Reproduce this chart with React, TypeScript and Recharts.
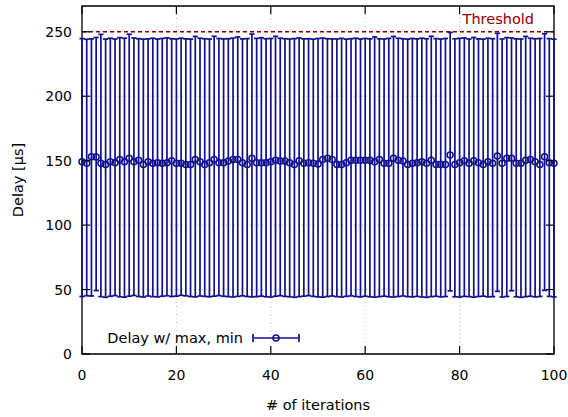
import React from "react";
import {
  ComposedChart,
  Line,
  ErrorBar,
  XAxis,
  YAxis,
  CartesianGrid,
  ReferenceLine,
  ReferenceArea,
} from "recharts";

const iterations = [
  0, 1, 2, 3, 4, 5, 6, 7, 8, 9, 10, 11, 12, 13, 14, 15, 16, 17, 18, 19, 20,
  21, 22, 23, 24, 25, 26, 27, 28, 29, 30, 31, 32, 33, 34, 35, 36, 37, 38, 39,
  40, 41, 42, 43, 44, 45, 46, 47, 48, 49, 50, 51, 52, 53, 54, 55, 56, 57, 58,
  59, 60, 61, 62, 63, 64, 65, 66, 67, 68, 69, 70, 71, 72, 73, 74, 75, 76, 77,
  78, 79, 80, 81, 82, 83, 84, 85, 86, 87, 88, 89, 90, 91, 92, 93, 94, 95, 96,
  97, 98, 99, 100,
];

const meanDelay = [
  149.2, 147.9, 153.1, 152.8, 147.9, 147.1, 149.2, 148.4, 151.0, 149.2, 151.8,
  149.2, 150.3, 147.1, 149.2, 147.9, 148.4, 147.9, 148.4, 150.0, 147.9, 147.9,
  147.1, 147.1, 151.0, 149.2, 147.1, 148.4, 151.0, 148.4, 148.4, 149.8, 151.0,
  151.0, 148.4, 147.1, 151.8, 148.4, 148.4, 148.4, 149.2, 150.3, 149.8, 149.8,
  148.4, 147.1, 150.0, 147.9, 148.4, 147.9, 147.4, 151.0, 151.8, 151.0, 147.1,
  147.1, 148.4, 150.3, 150.3, 150.3, 150.3, 150.3, 149.2, 151.0, 147.9, 147.9,
  151.8, 150.3, 149.8, 147.1, 147.9, 148.4, 149.2, 147.9, 150.3, 147.1, 147.1,
  147.1, 154.4, 147.1, 148.4, 150.0, 147.9, 150.0, 148.4, 147.1, 149.2, 147.9,
  153.6, 147.9, 151.8, 151.8, 147.9, 147.9, 150.3, 151.0, 149.2, 147.1, 153.1,
  148.4, 147.9,
];

const maxDelay = [
  244.7, 244.2, 244.5, 245.6, 248.0, 244.3, 245.0, 244.4, 245.5, 245.0, 248.1,
  245.2, 244.6, 244.3, 244.5, 245.0, 244.4, 244.8, 245.3, 244.6, 244.4, 245.0,
  244.5, 244.3, 246.4, 245.0, 244.6, 244.4, 246.5, 244.8, 244.5, 244.6, 245.1,
  246.0, 244.5, 244.7, 248.2, 244.9, 245.4, 244.6, 244.8, 246.5, 245.0, 244.6,
  244.4, 244.7, 245.2, 244.5, 244.6, 244.3, 244.8, 245.1, 244.6, 244.5, 244.4,
  244.9, 244.3, 244.6, 245.0, 244.4, 244.8, 244.5, 246.0, 244.6, 244.4, 244.9,
  246.4, 245.0, 244.6, 244.3, 244.8, 244.5, 245.0, 244.6, 246.5, 244.7, 244.4,
  244.8, 249.5, 244.6, 244.9, 245.2, 244.4, 245.6, 244.5, 244.3, 245.0, 244.6,
  248.8, 244.4, 245.5, 245.2, 244.5, 244.4, 246.4, 245.0, 244.6, 244.8, 248.5,
  244.7, 244.3,
];

const minDelay = [
  44.6, 45.2, 45.0, 49.2, 44.5, 44.0, 44.8, 45.3, 44.4, 44.1, 44.9, 45.4, 44.6,
  44.2, 45.0, 44.5, 44.3, 44.8, 45.2, 44.6, 44.9, 45.5, 45.1, 44.6, 44.3, 45.0,
  44.7, 44.4, 44.9, 45.3, 44.8, 44.5, 44.2, 44.7, 45.1, 44.6, 44.3, 44.5, 44.9,
  44.4, 44.2, 44.8, 45.2, 44.7, 44.4, 44.0, 44.5, 44.9, 45.3, 44.7, 44.3, 44.1,
  44.6, 45.0, 44.5, 44.2, 44.7, 45.1, 44.6, 44.3, 44.8, 44.4, 44.1, 44.5, 44.9,
  44.4, 44.2, 44.6, 45.0, 44.5, 44.3, 44.7, 44.2, 44.0, 44.5, 44.8, 44.3, 44.6,
  49.0, 44.4, 44.2, 44.7, 44.5, 44.1, 44.6, 44.9, 44.3, 44.5, 48.6, 44.2, 44.6,
  49.1, 44.4, 44.0, 44.5, 44.8, 44.3, 44.6, 49.4, 44.7, 44.3,
];

const xTicks = [0, 20, 40, 60, 80, 100];
const yTicks = [0, 50, 100, 150, 200, 250];
const threshold = 250;

const data = iterations.map((it, i) => ({
  it,
  mean: meanDelay[i],
  err: [meanDelay[i] - minDelay[i], maxDelay[i] - meanDelay[i]],
}));

const W = 568;
const H = 417;
const PLOT_TOP = 6;
const PLOT_RIGHT = 554;
const X_MARGIN = 16;
const Y_MARGIN = 10;
const FONT = "'DejaVu Sans', Verdana, sans-serif";
const BLUE = "#10108f";
const RED = "#8b0000";

const XTick = (props: any) => {
  const { x, y, payload } = props;
  const axisY = y - X_MARGIN;
  return (
    <g>
      <line x1={x} x2={x} y1={axisY} y2={axisY - 8} stroke="#000" strokeWidth={1.2} />
      <line x1={x} x2={x} y1={PLOT_TOP} y2={PLOT_TOP + 8} stroke="#000" strokeWidth={1.2} />
      <text x={x} y={y} dy="0.71em" textAnchor="middle" fontSize={14} fontFamily={FONT} fill="#000">
        {payload.value}
      </text>
    </g>
  );
};

const YTick = (props: any) => {
  const { x, y, payload } = props;
  const axisX = x + Y_MARGIN;
  return (
    <g>
      <line x1={axisX} x2={axisX + 8} y1={y} y2={y} stroke="#000" strokeWidth={1.2} />
      <line x1={PLOT_RIGHT} x2={PLOT_RIGHT - 8} y1={y} y2={y} stroke="#000" strokeWidth={1.2} />
      <text x={x} y={y} dy="0.355em" textAnchor="end" fontSize={14} fontFamily={FONT} fill="#000">
        {payload.value}
      </text>
    </g>
  );
};

export default function App() {
  return (
    <div style={{ position: "absolute", left: 0, top: 0, width: W, height: H, background: "#fff" }}>
      <ComposedChart
        width={W}
        height={H}
        data={data}
        margin={{ top: PLOT_TOP, right: W - PLOT_RIGHT, bottom: 0, left: 0 }}
      >
        <CartesianGrid stroke="#b8b8b8" strokeDasharray="1 3" strokeWidth={1} />
        <XAxis
          dataKey="it"
          type="number"
          domain={[0, 100]}
          ticks={xTicks}
          interval={0}
          height={63}
          tickSize={0}
          tickMargin={X_MARGIN}
          tickLine={false}
          axisLine={false}
          tick={(p: any) => <XTick {...p} />}
        />
        <YAxis
          type="number"
          domain={[0, 270]}
          ticks={yTicks}
          interval={0}
          width={82}
          tickSize={0}
          tickMargin={Y_MARGIN}
          tickLine={false}
          axisLine={false}
          tick={(p: any) => <YTick {...p} />}
        />
        <ReferenceLine y={threshold} stroke={RED} strokeDasharray="4 3" strokeWidth={1.6} />
        <Line
          dataKey="mean"
          stroke="none"
          isAnimationActive={false}
          activeDot={false}
          dot={{ r: 3, stroke: BLUE, strokeWidth: 1.5, fill: "none" }}
        >
          <ErrorBar dataKey="err" direction="y" width={2.6} stroke={BLUE} strokeWidth={1.7} />
        </Line>
        <ReferenceArea
          x1={0}
          x2={100}
          y1={0}
          y2={270}
          fill="none"
          stroke="#000"
          strokeWidth={1.3}
          ifOverflow="visible"
        />
      </ComposedChart>
      <svg
        width={W}
        height={H}
        style={{ position: "absolute", left: 0, top: 0, pointerEvents: "none" }}
      >
        <text
          x={18}
          y={180}
          transform="rotate(-90 18 180)"
          textAnchor="middle"
          dominantBaseline="central"
          fontSize={14.5}
          fontFamily={FONT}
          fill="#000"
        >
          Delay [µs]
        </text>
        <text x={318} y={410} textAnchor="middle" fontSize={14.5} fontFamily={FONT} fill="#000">
          # of iterations
        </text>
        <text x={534} y={23.5} textAnchor="end" fontSize={14.5} fontFamily={FONT} fill={RED}>
          Threshold
        </text>
        <text x={243} y={343} textAnchor="end" fontSize={14.5} fontFamily={FONT} fill="#000">
          Delay w/ max, min
        </text>
        <line x1={253} x2={299} y1={338} y2={338} stroke={BLUE} strokeWidth={1.7} />
        <line x1={253} x2={253} y1={334} y2={342} stroke={BLUE} strokeWidth={1.7} />
        <line x1={299} x2={299} y1={334} y2={342} stroke={BLUE} strokeWidth={1.7} />
        <circle cx={276} cy={338} r={3} stroke={BLUE} strokeWidth={1.5} fill="none" />
      </svg>
    </div>
  );
}
